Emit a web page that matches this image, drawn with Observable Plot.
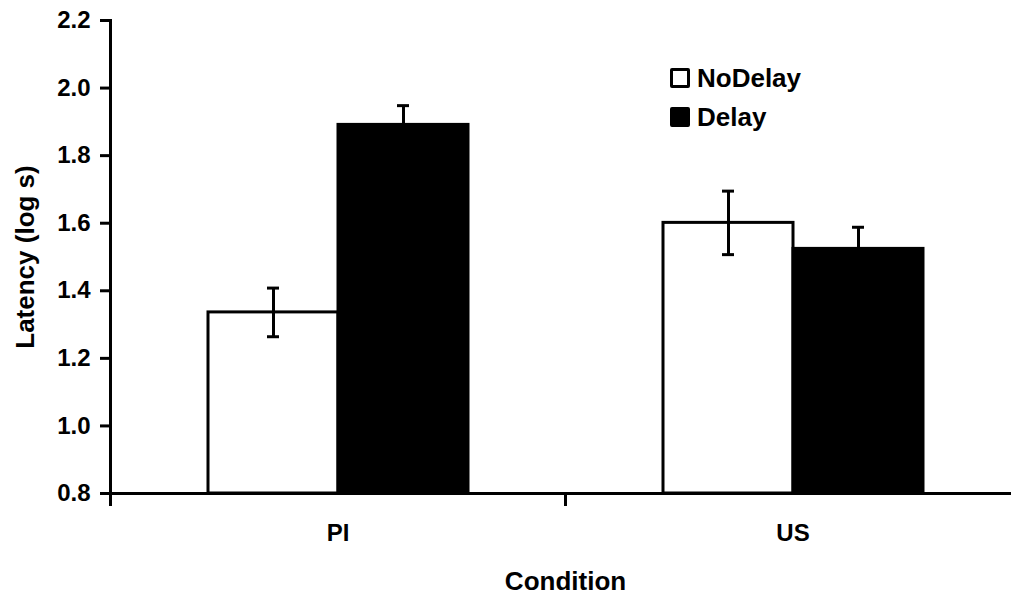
<!DOCTYPE html>
<html><head><meta charset="utf-8">
<script src="https://cdn.jsdelivr.net/npm/d3@7"></script>
<script src="https://cdn.jsdelivr.net/npm/@observablehq/plot@0.6"></script>
<style>
html,body{margin:0;padding:0;background:#fff;overflow:hidden;}
#wrap{position:relative;width:1011px;height:596px;overflow:hidden;font-family:"Liberation Sans",Arial,sans-serif;font-weight:bold;color:#000;}
#wrap svg{max-width:none !important;}
#legend{position:absolute;left:670px;top:58px;}
.item{display:flex;align-items:center;height:39px;font-size:26px;line-height:1;}
.sw{width:20px;height:20px;box-sizing:border-box;border:3px solid #000;margin-right:7px;border-radius:2px;}
</style></head><body><div id="wrap"></div>
<script>
const conditions = ["PI", "US"];
const groups = ["NoDelay", "Delay"];
const piMeans = [1.336, 1.891];
const usMeans = [1.601, 1.524];
const piErrors = [0.072, 0.057];
const usErrors = [0.094, 0.064];
const yTicks = [0.8, 1.0, 1.2, 1.4, 1.6, 1.8, 2.0, 2.2];
const groupFills = ["white", "black"];
const yLabel = "Latency (log s)";
const xLabel = "Condition";

const means = {PI: piMeans, US: usMeans};
const errors = {PI: piErrors, US: usErrors};
const data = conditions.flatMap(c => groups.map((g, i) => ({condition: c, group: g, mean: means[c][i], err: errors[c][i]})));

const W = 1020, H = 596, mL = 110, mT = 20, mB = 103;
const font = '"Liberation Sans", Arial, sans-serif';

const chart = Plot.plot({
  width: W, height: H,
  marginLeft: mL, marginRight: 0, marginTop: mT, marginBottom: mB,
  style: {fontFamily: font, fontWeight: "bold", color: "black", background: "white", overflow: "visible", maxWidth: "none"},
  fx: {domain: conditions, padding: 0},
  x: {domain: groups, paddingInner: 0, paddingOuter: 0.75, axis: null},
  y: {domain: [yTicks[0], yTicks[yTicks.length - 1]]},
  color: {type: "ordinal", domain: groups, range: groupFills},
  marks: [
    Plot.barY(data, {fx: "condition", x: "group", y1: yTicks[0], y2: "mean", fill: "group", stroke: "black", strokeWidth: 3}),
    Plot.ruleX(data, {fx: "condition", x: "group", y1: d => d.mean - d.err, y2: d => d.mean + d.err, stroke: "black", strokeWidth: 3}),
    Plot.tickY(data, {fx: "condition", x: "group", y: d => d.mean - d.err, insetLeft: 59, insetRight: 59, stroke: "black", strokeWidth: 3}),
    Plot.tickY(data, {fx: "condition", x: "group", y: d => d.mean + d.err, insetLeft: 59, insetRight: 59, stroke: "black", strokeWidth: 3}),
    Plot.ruleY([yTicks[0]], {stroke: "black", strokeWidth: 3}),
    Plot.frame({anchor: "left", facetAnchor: "left", stroke: "black", strokeWidth: 3, insetBottom: -11}),
    Plot.frame({anchor: "left", insetTop: H - mT - mB, insetBottom: -11, stroke: "black", strokeWidth: 3}),
    Plot.axisY({ticks: yTicks, tickFormat: d3.format(".1f"), tickSize: 10, tickPadding: 10, stroke: "black", strokeWidth: 3, fontSize: 24, fill: "black", label: null}),
    Plot.axisY({ticks: yTicks, tickSize: 0, tickFormat: () => "", label: yLabel, labelAnchor: "center", labelOffset: 95, labelArrow: "none", fontSize: 26, fill: "black"}),
    Plot.axisFx({anchor: "bottom", tickSize: 0, tickPadding: 30, fontSize: 24, fill: "black", label: null}),
    Plot.axisFx({anchor: "bottom", tickSize: 0, tickFormat: () => "", label: xLabel, labelAnchor: "center", labelOffset: 96, labelArrow: "none", fontSize: 26, fill: "black"})
  ]
});

const wrap = document.getElementById("wrap");
wrap.appendChild(chart);

const legend = document.createElement("div");
legend.id = "legend";
groups.forEach((g, i) => {
  const item = document.createElement("div");
  item.className = "item";
  const sw = document.createElement("span");
  sw.className = "sw";
  sw.style.background = groupFills[i];
  const t = document.createElement("span");
  t.textContent = g;
  item.appendChild(sw);
  item.appendChild(t);
  legend.appendChild(item);
});
wrap.appendChild(legend);
</script>
</body></html>
